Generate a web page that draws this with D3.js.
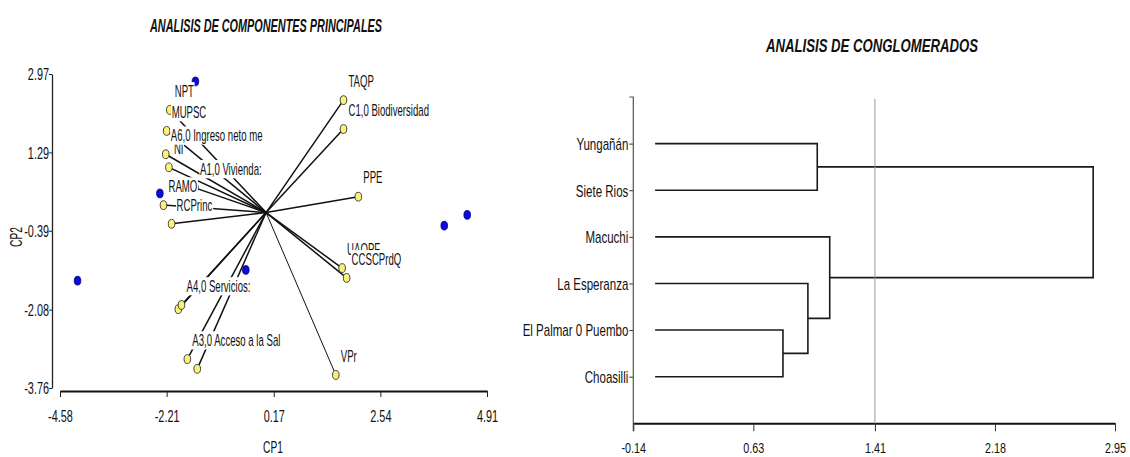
<!DOCTYPE html>
<html>
<head>
<meta charset="utf-8">
<script src="https://cdn.jsdelivr.net/npm/d3@7"></script>
<style>
body { margin: 0; background: #fff; }
svg { display: block; }
text { font-family: 'Liberation Sans', Arial, sans-serif; fill: #111; }
</style>
</head>
<body>
<div id="chart-area"></div>
<script>
/*
*    biplot + dendrogram
*/

// variables (yellow points) of the biplot, in drawing order
var varNames = ["NPT", "MUPSC", "NI", "A6,0 Ingreso neto me", "A1,0 Vivienda:", "RCPrinc", "RAMO",
	"TAQP", "C1,0 Biodiversidad", "PPE", "UAQPF", "CCSCPrdQ", "VPr",
	"A2,0", "A4,0 Servicios:", "A5,0", "A3,0 Acceso a la Sal"];
var varCP1 = [-2.14, -2.21, -2.16, -2.23, -1.58, -2.10, -2.28,
	1.72, 1.72, 2.05, 1.69, 1.79, 1.55,
	-1.95, -1.88, -1.53, -1.75];
var varCP2 = [2.20, 1.75, 0.97, 1.25, 0.53, -0.24, 0.16,
	2.41, 1.79, 0.34, -1.19, -1.40, -3.48,
	-2.07, -1.98, -3.35, -3.14];
// labels that sit fully under other labels in the original
var coveredLabels = ["A2,0", "A5,0"];

// sites (blue points)
var siteCP1 = [-1.57, -2.36, -4.19, -0.45, 3.96, 4.47];
var siteCP2 = [2.81, 0.41, -1.46, -1.23, -0.28, -0.05];

var cp1Ticks = [-4.58, -2.21, 0.17, 2.54, 4.91];
var cp2Ticks = [2.97, 1.29, -0.39, -2.08, -3.76];

// dendrogram
var leaves = ["Yungañán", "Siete Rios", "Macuchi", "La Esperanza", "El Palmar 0 Puembo", "Choasilli"];
var mergeA = ["El Palmar 0 Puembo", "La Esperanza", "Yungañán", "Macuchi", "n3"];
var mergeB = ["Choasilli", "n1", "Siete Rios", "n2", "n4"];
var mergeH = [0.82, 0.98, 1.04, 1.12, 2.81];
var distTicks = [-0.14, 0.63, 1.41, 2.18, 2.95];
var cutLevel = 1.41;

var width = 1130;
var height = 457;

var svg = d3.select("#chart-area").append("svg")
	.attr("width", width)
	.attr("height", height);

// narrow, tall look of the original text
function squash(sel, k) {
	sel.each(function() {
		var t = d3.select(this);
		var x = +t.attr("x") || 0;
		t.attr("x", x / k).attr("transform", "scale(" + k + ",1)");
	});
}

function fmt(d) { return d.toFixed(2); }

//---------------- left: biplot
var x = d3.scaleLinear().domain([-4.58, 4.91]).range([60, 487]);
var y = d3.scaleLinear().domain([-3.76, 2.97]).range([388, 74]);

var g = svg.append("g");

g.append("text")
	.attr("x", 266).attr("y", 32)
	.attr("text-anchor", "middle")
	.attr("font-size", "19px")
	.attr("font-weight", "bold")
	.attr("font-style", "italic")
	.attr("textLength", 232)
	.attr("lengthAdjust", "spacingAndGlyphs")
	.text("ANALISIS DE COMPONENTES PRINCIPALES");

var leftAxis = d3.axisLeft(y).tickValues(cp2Ticks).tickFormat(fmt).tickSize(3).tickSizeOuter(0);
var ly = g.append("g")
	.attr("transform", "translate(52,0)")
	.call(leftAxis);
ly.select(".domain").attr("stroke", "#222").attr("stroke-width", 1.3);
ly.selectAll(".tick line").attr("stroke", "#222");
ly.selectAll("text").attr("font-size", "16px").attr("x", -3).attr("dy", "0.36em");
squash(ly.selectAll("text"), 0.68);

var bottomAxis = d3.axisBottom(x).tickValues(cp1Ticks).tickFormat(fmt).tickSize(6).tickSizeOuter(0);
var lx = g.append("g")
	.attr("transform", "translate(0,391)")
	.call(bottomAxis);
lx.select(".domain").attr("stroke", "#111").attr("stroke-width", 2);
lx.selectAll(".tick line").attr("stroke", "#222");
lx.selectAll("text").attr("font-size", "16px").attr("y", 20);
squash(lx.selectAll("text"), 0.68);

//Label x-axis
g.append("text")
	.attr("transform", "translate(273,452.5) scale(0.6,1)")
	.attr("text-anchor", "middle")
	.attr("font-size", "17px")
	.text("CP1");

//Label y-axis
g.append("text")
	.attr("transform", "translate(22,237) rotate(-90) scale(0.6,1)")
	.attr("text-anchor", "middle")
	.attr("font-size", "17px")
	.text("CP2");

var vars = varNames.map(function(n, i) { return {name: n, cp1: varCP1[i], cp2: varCP2[i]}; });
var sites = siteCP1.map(function(v, i) { return {cp1: v, cp2: siteCP2[i]}; });

g.selectAll(".site").data(sites).enter()
	.append("ellipse")
	.attr("class", "site")
	.attr("cx", function(d) { return x(d.cp1); })
	.attr("cy", function(d) { return y(d.cp2); })
	.attr("rx", 3.3).attr("ry", 4.4)
	.attr("fill", "#0a0ae0")
	.attr("stroke", "#00006a")
	.attr("stroke-width", 0.8);

g.selectAll(".vec").data(vars).enter()
	.append("line")
	.attr("class", "vec")
	.attr("x1", x(0)).attr("y1", y(0))
	.attr("x2", function(d) { return x(d.cp1); })
	.attr("y2", function(d) { return y(d.cp2); })
	.attr("stroke", "#111")
	.attr("stroke-width", function(d) { return d.name === "VPr" ? 1 : 1.5; });

g.selectAll(".var").data(vars).enter()
	.append("ellipse")
	.attr("class", "var")
	.attr("cx", function(d) { return x(d.cp1); })
	.attr("cy", function(d) { return y(d.cp2); })
	.attr("rx", 3.3).attr("ry", 4.4)
	.attr("fill", "#fbf27c")
	.attr("stroke", "#333")
	.attr("stroke-width", 0.9);

// labels with white boxes, placed above-right of each point
var shown = vars.filter(function(d) { return coveredLabels.indexOf(d.name) < 0; });
var labels = g.selectAll(".lab").data(shown).enter()
	.append("g")
	.attr("class", "lab")
	.attr("transform", function(d) {
		return "translate(" + (x(d.cp1) + 5) + "," + (y(d.cp2) - 19) + ") scale(0.6,1)";
	});
labels.append("text")
	.attr("font-size", "16px")
	.attr("dy", "0.36em")
	.text(function(d) { return d.name; });
labels.each(function() {
	var lab = d3.select(this);
	var bb = lab.select("text").node().getBBox();
	lab.insert("rect", "text")
		.attr("x", bb.x - 1).attr("y", bb.y)
		.attr("width", bb.width + 2).attr("height", bb.height)
		.attr("fill", "#fff");
});

//---------------- right: dendrogram
var xd = d3.scaleLinear().domain([-0.14, 2.95]).range([633.3, 1115]);
var yd = d3.scalePoint().domain(leaves).range([97, 423.3]).padding(1);
var axisY = 423.3;

var g2 = svg.append("g");

g2.append("text")
	.attr("x", 872).attr("y", 51.7)
	.attr("text-anchor", "middle")
	.attr("font-size", "19px")
	.attr("font-weight", "bold")
	.attr("font-style", "italic")
	.attr("textLength", 212)
	.attr("lengthAdjust", "spacingAndGlyphs")
	.text("ANALISIS DE CONGLOMERADOS");

var dl = g2.append("g")
	.attr("transform", "translate(" + xd(-0.14) + ",0)")
	.call(d3.axisLeft(yd).tickSize(4).tickSizeOuter(0));
dl.select(".domain").remove();
dl.selectAll(".tick line").attr("stroke", "#333");
dl.selectAll("text").attr("font-size", "16px").attr("x", -5).attr("dy", "0.36em");
squash(dl.selectAll("text"), 0.72);
dl.append("path")
	.attr("d", "M-4," + yd.range()[0] + "H0V" + (axisY + 8))
	.attr("fill", "none")
	.attr("stroke", "#555")
	.attr("stroke-width", 1.2);

var db = g2.append("g")
	.attr("transform", "translate(0," + axisY + ")")
	.call(d3.axisBottom(xd).tickValues(distTicks).tickFormat(fmt).tickSize(8).tickSizeOuter(0));
db.select(".domain").attr("stroke", "#111").attr("stroke-width", 2);
db.selectAll(".tick line").attr("stroke", "#333");
db.selectAll("text").attr("font-size", "15px").attr("y", 19);
squash(db.selectAll("text"), 0.72);

var pos = {};
leaves.forEach(function(l) { pos[l] = {h: 0, y: yd(l)}; });
mergeA.forEach(function(a, i) {
	var b = mergeB[i], h = mergeH[i];
	var pa = pos[a], pb = pos[b];
	g2.append("path")
		.attr("d", "M" + xd(pa.h) + "," + pa.y + "H" + xd(h) + "V" + pb.y + "H" + xd(pb.h))
		.attr("fill", "none")
		.attr("stroke", "#1a1a1a")
		.attr("stroke-width", 1.6);
	pos["n" + (i + 1)] = {h: h, y: (pa.y + pb.y) / 2};
});

g2.append("line")
	.attr("x1", xd(cutLevel)).attr("x2", xd(cutLevel))
	.attr("y1", yd.range()[0] + 2).attr("y2", axisY)
	.attr("stroke", "#999")
	.attr("stroke-width", 1);
</script>
</body>
</html>
